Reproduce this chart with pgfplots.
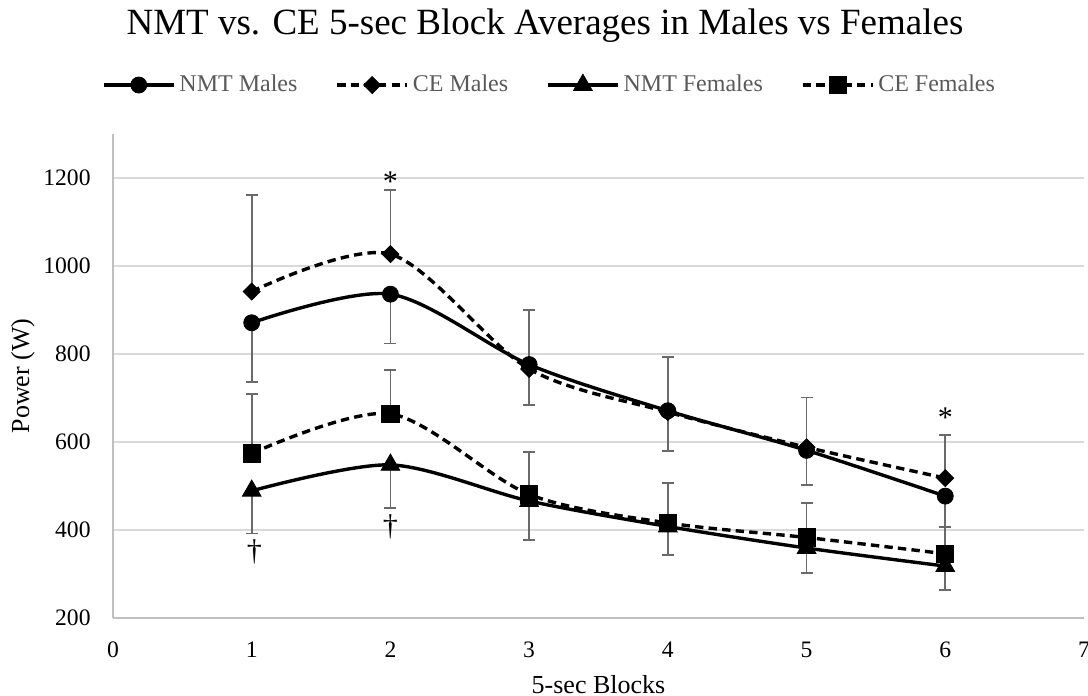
\documentclass[border=0pt]{standalone}
\usepackage{pgfplots}
\usepackage{pgfplotstable}
\pgfplotsset{compat=1.18}
\usepackage{fontspec}
\setmainfont{Liberation Serif}
\definecolor{axisgray}{HTML}{BFBFBF}
\definecolor{gridgray}{HTML}{D9D9D9}
\definecolor{errgray}{HTML}{6A6A6A}
\definecolor{legtext}{HTML}{595959}

\pgfplotstableread{
x y e
1 871 134
2 936 112
3 776 92
4 671 92
5 581 78
6 477 70
}\nmtm
\pgfplotstableread{
x y e
1 942 220
2 1027 146
3 766 134
4 668 125
5 588 113
6 518 98
}\cem
\pgfplotstableread{
x y e
1 489 97
2 548 98
3 466 89
4 408 65
5 359 56
6 318 54
}\nmtf
\pgfplotstableread{
x y e
1 574 135
2 664 99
3 481 97
4 416 91
5 383 78
6 346 62
}\cef

\pgfplotsset{
  errstyle/.style={
    error bars/.cd, y explicit,
    error mark=|,
    error bar style={solid, line width=0.9pt, draw=errgray},
    error mark options={solid, mark size=3pt, line width=0.9pt, draw=errgray}},
}

\begin{document}
\begin{tikzpicture}
\begin{axis}[
  at={(56.5pt,-309pt)}, anchor=south west,
  scale only axis, width=485.5pt, height=242pt,
  xmin=0, xmax=7, ymin=200, ymax=1300,
  xtick={0,1,2,3,4,5,6,7},
  ytick={200,400,600,800,1000,1200},
  axis x line*=bottom, axis y line*=left,
  axis line style={draw=axisgray, line width=0.8pt, -},
  ymajorgrids, grid style={draw=gridgray, line width=0.8pt},
  major tick length=0pt,
  /pgf/number format/assume math mode=true,
  /pgf/number format/1000 sep={},
  tick label style={font=\fontsize{11.8}{13}\selectfont, text=black},
  xticklabel style={anchor=base, inner sep=0pt, yshift=-19.5pt},
  yticklabel style={anchor=east, inner sep=0pt, xshift=-11pt},
  xlabel={5-sec Blocks},
  ylabel={Power (W)},
  label style={font=\fontsize{13}{15}\selectfont},
  xlabel style={at={(axis description cs:0.5,-0.155)}, anchor=base, inner sep=0pt},
  ylabel style={at={(axis description cs:-0.0927,0.5)}, anchor=center, inner sep=0pt},
  legend style={draw=none, fill=none, legend columns=4,
    at={(axis description cs:0.4506,1.1012)}, anchor=center,
    font=\fontsize{12}{14}\selectfont, text=legtext,
    /tikz/every even column/.append style={column sep=17pt}},
  legend cell align=left,
  legend image code/.code={\draw[mark repeat=2,mark phase=2,#1] plot coordinates {(0pt,0pt) (17.5pt,0pt) (35pt,0pt)};},
  clip=false,
]
\addplot[black, line width=1.7pt, smooth, mark=*, mark size=4pt,
  mark options={solid, fill=black, line width=0.4pt},
  errstyle, y dir=minus]
  table[x=x, y=y, y error=e] {\nmtm};
\addlegendentry{NMT Males}
\addplot[black, line width=1.7pt, smooth, dash pattern=on 4.2pt off 2.6pt,
  mark=square*, mark size=3pt,
  mark options={solid, fill=black, line width=0.4pt, rotate=45},
  errstyle, y dir=plus]
  table[x=x, y=y, y error=e] {\cem};
\addlegendentry{CE Males}
\addplot[black, line width=1.7pt, smooth, mark=triangle*, mark size=5.4pt,
  mark options={solid, fill=black, line width=0.4pt},
  errstyle, y dir=minus]
  table[x=x, y=y, y error=e] {\nmtf};
\addlegendentry{NMT Females}
\addplot[black, line width=1.7pt, smooth, dash pattern=on 4.2pt off 2.6pt,
  mark=square*, mark size=4.3pt,
  mark options={solid, fill=black, line width=0.4pt},
  errstyle, y dir=plus]
  table[x=x, y=y, y error=e] {\cef};
\addlegendentry{CE Females}
\node[anchor=base, inner sep=0pt, font=\fontsize{15}{17}\selectfont] at (axis cs:2,1170) {*};
\node[anchor=base, inner sep=0pt, font=\fontsize{15}{17}\selectfont] at (axis cs:6,634) {*};
\node[anchor=base, inner sep=0pt, font=\fontsize{15}{17}\selectfont] at (axis cs:1.02,331) {†};
\node[anchor=base, inner sep=0pt, font=\fontsize{15}{17}\selectfont] at (axis cs:2,388) {†};
\end{axis}
\node[anchor=base, inner sep=0pt, font=\fontsize{18.5}{21}\selectfont] at (272.5pt,-17.4pt) {NMT vs. CE 5-sec Block Averages in Males vs Females};
\pgfresetboundingbox
\useasboundingbox (0pt,0pt) rectangle (544pt,-348pt);
\end{tikzpicture}
\end{document}
